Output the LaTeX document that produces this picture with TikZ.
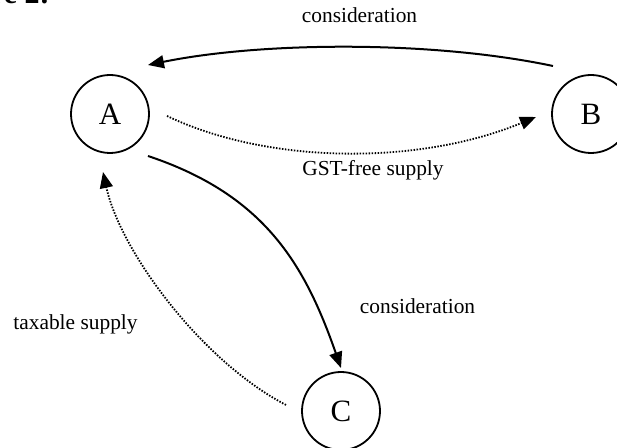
\documentclass[tikz,border=0pt]{standalone}
\usepackage{fontspec}
\setmainfont{Liberation Serif}
\usetikzlibrary{arrows.meta}
\begin{document}
\begin{tikzpicture}[x=0.5pt,y=-0.5pt,
  party/.style={circle,draw,line width=0.9pt,minimum size=39pt,inner sep=0pt,font=\fontsize{15.5}{17}\selectfont},
  lbl/.style={anchor=base,inner sep=0pt,font=\fontsize{10.7}{12}\selectfont},
  solidarrow/.style={line width=1pt,-{Triangle[length=8pt,width=6.5pt]}},
  dotarrow/.style={line width=0.9pt,dash pattern=on 0.75pt off 0.75pt,-{Triangle[length=8pt,width=6.5pt]}}]
\useasboundingbox (0,0) rectangle (617,448);
\clip (0,0) rectangle (617,448);
\node[anchor=base east,inner sep=0pt,font=\bfseries\fontsize{15}{17}\selectfont] (title) at (50,4) {Figure 2:};
\node[party] (A) at (110,114) {A};
\node[party] (B) at (591,114) {B};
\node[party] (C) at (341,411) {C};
\coordinate (ba1) at ([shift={(-38,-48)}]B.center);
\coordinate (ba2) at ([shift={(38,-49)}]A.center);
\coordinate (ab1) at ([shift={(57,2)}]A.center);
\coordinate (ab2) at ([shift={(-55,3)}]B.center);
\coordinate (ac1) at ([shift={(38,42)}]A.center);
\coordinate (ac2) at ([shift={(0,-43)}]C.center);
\coordinate (ca1) at ([shift={(-55,-6)}]C.center);
\coordinate (ca2) at ([shift={(-7,58)}]A.center);
\draw[solidarrow] (ba1) .. controls (430,40) and (260,42) .. (ba2);
\draw[dotarrow] (ab1) .. controls (270,165) and (420,165) .. (ab2);
\draw[solidarrow] (ac1) .. controls (265,195) and (305,265) .. (ac2);
\draw[dotarrow] (ca1) .. controls (200,360) and (120,250) .. (ca2);
\node[lbl] (l1) at (359.5,22.5) {consideration};
\node[lbl] (l2) at (373,175.5) {GST-free supply};
\node[lbl] (l3) at (417.5,314) {consideration};
\node[lbl] (l4) at (75.5,330) {taxable supply};
\end{tikzpicture}
\end{document}
